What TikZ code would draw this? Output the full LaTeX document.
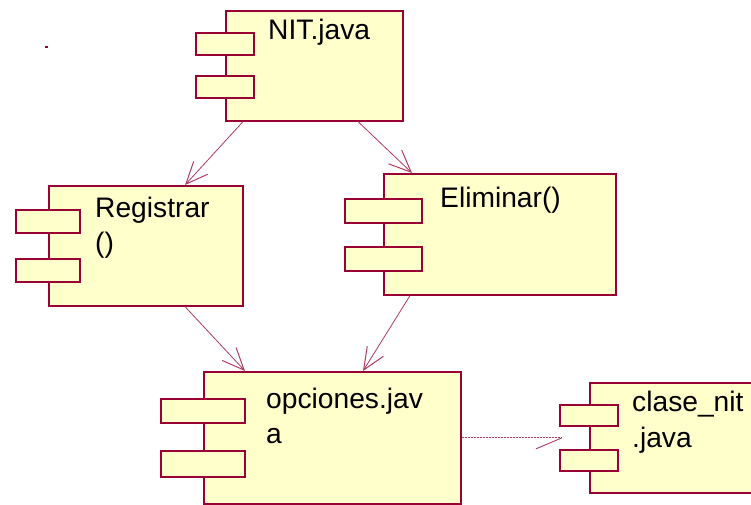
\documentclass[tikz,border=0pt]{standalone}
\usepackage{fontspec}
\setmainfont{Liberation Sans}
\usetikzlibrary{arrows.meta}
\definecolor{umlred}{HTML}{990033}
\definecolor{umlfill}{HTML}{FFFFCC}
\definecolor{umlline}{HTML}{B03A60}
\begin{document}
\begin{tikzpicture}[x=1pt,y=-1pt,
  body/.style={draw=umlred, fill=umlfill, line width=1.6pt, inner sep=0pt, anchor=north west},
  port/.style={draw=umlred, fill=umlfill, line width=1.6pt, inner sep=0pt, anchor=north west, minimum height=22pt},
  lbl/.style={anchor=base west, inner sep=0pt, font=\fontsize{28.2pt}{35pt}\selectfont, text=black},
  conn/.style={draw=umlline, line width=0.8pt, -{Straight Barb[length=22pt,width=19pt,line width=1pt]}},
  depline/.style={draw=umlline, line width=0.7pt, dash pattern=on 2pt off 1pt},
  barb/.style={draw=umlline, line width=0.9pt}
]
\useasboundingbox (0,0) rectangle (751,504);
\clip (0,0) rectangle (751,504);
\fill[white] (0,0) rectangle (751,504);

% NIT.java
\node[body, minimum width=177pt, minimum height=110pt] (nit) at (225,10) {};
\node[port, minimum width=58pt] (nitp1) at (195,32) {};
\node[port, minimum width=58pt] (nitp2) at (195,75) {};
\node[lbl] (nitt) at (268,39) {NIT.java};

% Registrar()
\node[body, minimum width=194pt, minimum height=120pt] (reg) at (48,185) {};
\node[port, minimum width=64pt, minimum height=23pt] (regp1) at (15,209) {};
\node[port, minimum width=64pt, minimum height=23pt] (regp2) at (15,258) {};
\node[lbl] (regt1) at (95,217) {Registrar};
\node[lbl] (regt2) at (95,252) {()};

% Eliminar()
\node[body, minimum width=232pt, minimum height=121pt] (eli) at (383,173) {};
\node[port, minimum width=77pt, minimum height=24pt] (elip1) at (344,198) {};
\node[port, minimum width=77pt, minimum height=24pt] (elip2) at (344,246) {};
\node[lbl] (elit) at (440,207) {Eliminar()};

% opciones.java
\node[body, minimum width=257pt, minimum height=132pt] (opc) at (203,371) {};
\node[port, minimum width=84pt, minimum height=24pt] (opcp1) at (160,398) {};
\node[port, minimum width=84pt, minimum height=26pt] (opcp2) at (160,450) {};
\node[lbl] (opct1) at (266,408) {opciones.jav};
\node[lbl] (opct2) at (266,443) {a};

% clase_nit.java
\node[body, minimum width=170pt, minimum height=110pt] (cla) at (589,382) {};
\node[port, minimum width=58pt, minimum height=21pt] (clap1) at (559,404) {};
\node[port, minimum width=58pt, minimum height=21pt] (clap2) at (559,449) {};
\node[lbl] (clat1) at (632,411) {clase\_nit};
\node[lbl] (clat2) at (632,447) {.java};

% connectors
\draw[conn] ([xshift=18pt]nit.south west) -- ([xshift=137pt]reg.north west);
\draw[conn] ([xshift=133pt]nit.south west) -- ([xshift=29pt]eli.north west);
\draw[conn] ([xshift=137pt]reg.south west) -- ([xshift=42pt]opc.north west);
\draw[conn] ([xshift=27pt]eli.south west) -- ([xshift=160pt]opc.north west);
\coordinate (depend) at ([xshift=-27pt]cla.west);
\draw[depline] (opc.east) -- (depend);
\draw[barb] (depend) -- ++(-26,11);

% small mark
\fill[umlred] (45,46) rectangle (48,48);
\end{tikzpicture}
\end{document}
